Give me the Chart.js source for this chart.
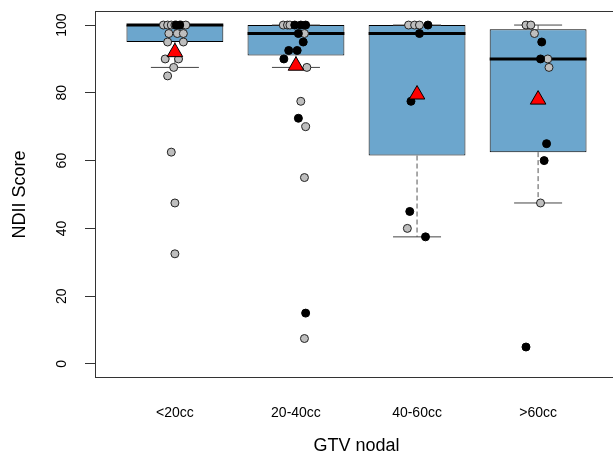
<!DOCTYPE html>
<html>
<head>
<meta charset="utf-8">
<script src="https://cdn.jsdelivr.net/npm/chart.js@4.4.0/dist/chart.umd.min.js"></script>
<style>
  html, body { margin: 0; padding: 0; background: #fff; overflow: hidden; }
  #contenedor { width: 613px; height: 464px; overflow: hidden; }
</style>
</head>
<body>
<div id="contenedor"><canvas id="grafico-caja" width="620" height="464"></canvas></div>
<script>

// categorias del eje x y estadisticos de cada caja
const categorias = ['<20cc', '20-40cc', '40-60cc', '>60cc'];
const cuartilInferior = [95, 91, 61.5, 62.5];
const mediana = [100, 97.5, 97.5, 90];
const cuartilSuperior = [100, 100, 100, 98.75];
const bigoteInferior = [87.5, 87.5, 37.5, 47.5];
const bigoteSuperior = [100, 100, 100, 100];
const medias = [92, 88, 79.5, 78];
const ticksY = [0, 20, 40, 60, 80, 100];

// puntos grises (x con jitter, y = NDII)
const grisX = [0.905, 0.94, 0.97, 1.0, 1.05, 1.09, 0.95, 1.02, 1.07, 0.94, 1.07, 0.92, 1.03, 0.99, 0.94, 0.97, 1.0, 1.0,
               1.895, 1.93, 1.95, 2.07, 2.09, 2.04, 2.08, 2.07, 2.07,
               2.93, 2.98, 3.02, 2.92,
               3.90, 3.94, 3.97, 4.08, 4.09, 4.02];
const grisY = [100, 100, 100, 100, 100, 100, 97.5, 97.5, 97.5, 95, 95, 90, 90, 87.5, 85, 62.5, 47.5, 32.5,
               100, 100, 100, 97.5, 87.5, 77.5, 70, 55, 7.5,
               100, 100, 100, 40,
               100, 100, 97.5, 90, 87.5, 47.5];

// puntos negros
const negroX = [1.01, 1.04,
                1.99, 2.04, 2.08, 2.02, 2.06, 1.94, 2.01, 1.90, 2.02, 2.08,
                3.09, 3.02, 2.95, 2.94, 3.07,
                4.03, 4.02, 4.07, 4.05, 3.90];
const negroY = [100, 100,
                100, 100, 100, 97.5, 95, 92.5, 92.5, 90, 72.5, 15,
                100, 97.5, 77.5, 45, 37.5,
                95, 90, 65, 60, 5];

let graficoCaja;

const fuente = 'Liberation Sans, Arial, sans-serif';

function unirPuntos(xs, ys) {
    return xs.map((x, i) => ({ x: x, y: ys[i] }));
}

// marco alrededor del area del grafico (como box() de R)
const marco = {
    id: 'marco',
    afterDatasetsDraw(chart) {
        const { ctx, chartArea: a } = chart;
        ctx.save();
        ctx.strokeStyle = '#333';
        ctx.lineWidth = 1;
        const l = Math.floor(a.left) + 0.5;
        const t = Math.floor(a.top) + 0.5;
        const r = Math.floor(a.right) + 0.5;
        const b = Math.floor(a.bottom) + 0.5;
        ctx.strokeRect(l, t, r - l, b - t);
        ctx.restore();
    }
};

function DibujarGrafico() {
    const posiciones = categorias.map((c, i) => i + 1);

    let cajas = posiciones.map((x, i) => ({ x: x, y: [cuartilInferior[i], cuartilSuperior[i]] }));
    let medianas = posiciones.map((x, i) => ({ x: x, y: mediana[i] }));
    let tapas = [];
    let bigotes = [];
    posiciones.forEach((x, i) => {
        tapas.push({ x: x, y: bigoteInferior[i] });
        tapas.push({ x: x, y: bigoteSuperior[i] });
        bigotes.push({ x: x, y: cuartilInferior[i] });
        bigotes.push({ x: x, y: bigoteInferior[i] });
        bigotes.push({ x: x, y: null });
        bigotes.push({ x: x, y: cuartilSuperior[i] });
        bigotes.push({ x: x, y: bigoteSuperior[i] });
        bigotes.push({ x: x, y: null });
    });
    let puntosMedia = posiciones.map((x, i) => ({ x: x, y: medias[i] }));

    const ctx = document.getElementById('grafico-caja');

    graficoCaja = new Chart(ctx, {
        type: 'scatter',
        data: {
            datasets: [
                {
                    label: 'media',
                    data: puntosMedia,
                    order: 0,
                    pointStyle: 'triangle',
                    pointRadius: 9,
                    pointBackgroundColor: '#FF0000',
                    pointBorderColor: '#000',
                    pointBorderWidth: 1,
                },
                {
                    label: 'negros',
                    data: unirPuntos(negroX, negroY),
                    order: 1,
                    pointRadius: 4,
                    pointBackgroundColor: '#000',
                    pointBorderColor: '#000',
                    pointBorderWidth: 1,
                },
                {
                    label: 'grises',
                    data: unirPuntos(grisX, grisY),
                    order: 2,
                    pointRadius: 4,
                    pointBackgroundColor: '#BEBEBE',
                    pointBorderColor: '#222',
                    pointBorderWidth: 1,
                },
                {
                    label: 'mediana',
                    data: medianas,
                    order: 3,
                    pointStyle: 'line',
                    pointRadius: 48.4,
                    borderColor: '#000',
                    pointBorderColor: '#000',
                    pointBorderWidth: 3,
                },
                {
                    label: 'tapas',
                    data: tapas,
                    order: 4,
                    pointStyle: 'line',
                    pointRadius: 24,
                    borderColor: '#444',
                    pointBorderColor: '#444',
                    pointBorderWidth: 1,
                },
                {
                    type: 'line',
                    label: 'bigotes',
                    data: bigotes,
                    order: 5,
                    borderColor: '#555',
                    borderWidth: 1,
                    borderDash: [5, 3],
                    pointRadius: 0,
                    spanGaps: false,
                    fill: false,
                },
                {
                    type: 'bar',
                    label: 'cajas',
                    data: cajas,
                    order: 6,
                    backgroundColor: '#6CA6CD',
                    borderColor: '#000',
                    borderWidth: 1,
                    borderSkipped: false,
                    barPercentage: 0.8,
                    categoryPercentage: 1,
                },
            ]
        },
        options: {
            responsive: false,
            animation: false,
            events: [],
            layout: { autoPadding: false, padding: { top: 11.5, right: 2, left: 0, bottom: 0 } },
            plugins: {
                legend: { display: false },
                tooltip: { enabled: false },
            },
            scales: {
                x: {
                    type: 'linear',
                    min: 0.34,
                    max: 4.66,
                    offset: false,
                    afterBuildTicks: (eje) => { eje.ticks = posiciones.map(v => ({ value: v })); },
                    afterFit: (eje) => {
                        eje.height = 86.5;
                        eje.paddingLeft = 0;
                        eje.paddingRight = 0;
                    },
                    border: { display: false },
                    grid: { display: false, drawTicks: false, offset: false },
                    ticks: {
                        autoSkip: false,
                        minRotation: 0,
                        maxRotation: 0,
                        padding: 27,
                        color: '#000',
                        font: { family: fuente, size: 14 },
                        callback: (valor) => categorias[valor - 1],
                    },
                    title: {
                        display: true,
                        text: 'GTV nodal',
                        color: '#000',
                        font: { family: fuente, size: 18 },
                        padding: { top: 0, bottom: 7 },
                    },
                },
                y: {
                    type: 'linear',
                    min: -4,
                    max: 104,
                    afterBuildTicks: (eje) => { eje.ticks = ticksY.map(v => ({ value: v })); },
                    afterFit: (eje) => {
                        eje.width = 95;
                        eje.paddingTop = 0;
                        eje.paddingBottom = 0;
                    },
                    border: { display: false },
                    grid: {
                        display: true,
                        drawOnChartArea: false,
                        drawTicks: true,
                        tickLength: 10,
                        color: '#333',
                        tickColor: '#333',
                    },
                    ticks: {
                        autoSkip: false,
                        minRotation: 90,
                        maxRotation: 90,
                        crossAlign: 'center',
                        padding: 11,
                        color: '#000',
                        font: { family: fuente, size: 14 },
                    },
                    title: {
                        display: true,
                        text: 'NDII Score',
                        color: '#000',
                        font: { family: fuente, size: 18 },
                        padding: { top: 9, bottom: 0 },
                    },
                },
            },
        },
        plugins: [marco],
    });
}

DibujarGrafico();
</script>
</body>
</html>
